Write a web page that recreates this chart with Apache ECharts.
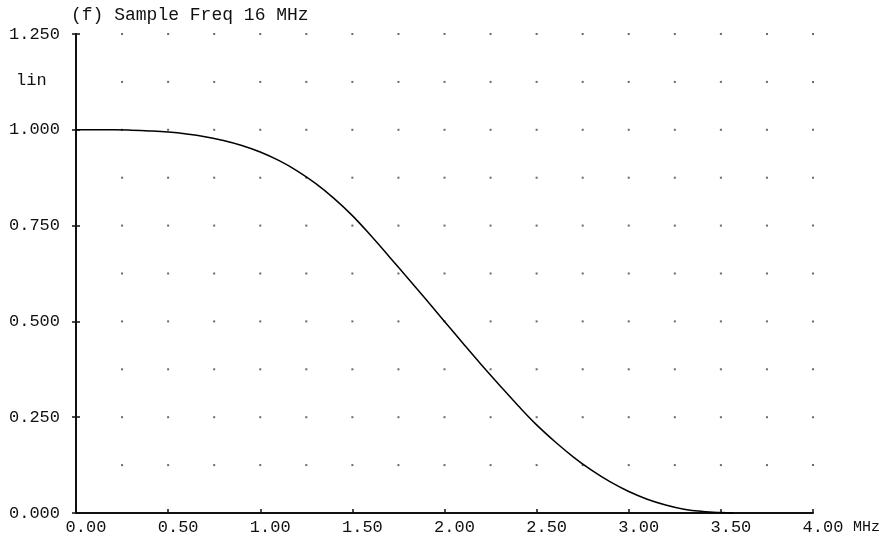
<!DOCTYPE html>
<html>
<head>
<meta charset="utf-8">
<script src="https://cdn.jsdelivr.net/npm/echarts@6/dist/echarts.min.js"></script>
<style>
  html, body { margin: 0; padding: 0; background: #fff; }
  #chart { width: 882px; height: 539px; }
</style>
</head>
<body>
<div id="chart"></div>
<script>
// Frequency response of the filter, linear gain vs. frequency (MHz)
const freqMHz = [0.0, 0.1, 0.2, 0.3, 0.4, 0.5, 0.6, 0.7, 0.8, 0.9,
                 1.0, 1.1, 1.2, 1.3, 1.4, 1.5, 1.6, 1.7, 1.8, 1.9,
                 2.0, 2.1, 2.2, 2.3, 2.4, 2.5, 2.6, 2.7, 2.8, 2.9,
                 3.0, 3.1, 3.2, 3.3, 3.4, 3.5, 3.57];
const gain = [1.000, 1.000, 1.000, 0.999, 0.997, 0.994, 0.989, 0.982, 0.972, 0.959,
              0.942, 0.920, 0.893, 0.860, 0.821, 0.776, 0.724, 0.669, 0.613, 0.557,
              0.500, 0.443, 0.387, 0.333, 0.280, 0.230, 0.186, 0.146, 0.111, 0.081,
              0.056, 0.036, 0.021, 0.010, 0.004, 0.001, 0.000];

// Axis ranges and dotted-grid positions
const xTicks = [0.00, 0.50, 1.00, 1.50, 2.00, 2.50, 3.00, 3.50, 4.00];
const yTicks = [0.000, 0.250, 0.500, 0.750, 1.000, 1.250];
const dotX = [0.25, 0.50, 0.75, 1.00, 1.25, 1.50, 1.75, 2.00, 2.25, 2.50, 2.75, 3.00, 3.25, 3.50, 3.75, 4.00];
const dotY = [0.125, 0.250, 0.375, 0.500, 0.625, 0.750, 0.875, 1.000, 1.125, 1.250];

const titleText = '(f) Sample Freq 16 MHz';
const scaleText = 'lin';
const unitText = 'MHz';

const FONT = 'Liberation Mono';
const INK = '#111';

const dots = [];
dotX.forEach(x => dotY.forEach(y => dots.push([x, y])));
const curve = freqMHz.map((f, i) => [f, gain[i]]);

const chart = echarts.init(document.getElementById('chart'), null, { renderer: 'canvas' });
chart.setOption({
  animation: false,
  backgroundColor: '#fff',
  grid: { left: 76, right: 69, top: 34, bottom: 26, containLabel: false, outerBoundsMode: 'none' },
  xAxis: {
    type: 'value',
    min: xTicks[0],
    max: xTicks[xTicks.length - 1],
    interval: 0.5,
    name: unitText,
    nameLocation: 'end',
    nameGap: 40,
    nameTextStyle: { fontFamily: FONT, fontSize: 15, color: INK, verticalAlign: 'top', padding: [7, 0, 0, 0] },
    axisLine: { lineStyle: { color: INK, width: 2 } },
    axisTick: { inside: true, length: 4, lineStyle: { color: INK, width: 1.5 } },
    splitLine: { show: false },
    axisLabel: {
      formatter: v => v.toFixed(2),
      fontFamily: FONT, fontSize: 17, color: INK,
      margin: 6, align: 'center', padding: [0, 0, 0, 20],
      showMinLabel: true, showMaxLabel: true
    }
  },
  yAxis: [{
    type: 'value',
    min: yTicks[0],
    max: yTicks[yTicks.length - 1],
    interval: 0.25,
    axisLine: { show: true, lineStyle: { color: INK, width: 2 } },
    axisTick: { show: true, inside: false, length: 4, lineStyle: { color: INK, width: 1.5 } },
    splitLine: { show: false },
    axisLabel: {
      formatter: v => v.toFixed(3),
      fontFamily: FONT, fontSize: 17, color: INK,
      margin: 16, verticalAlign: 'middle', padding: [0, 0, 9, 0],
      showMinLabel: true, showMaxLabel: true
    }
  }, {
    type: 'value',
    position: 'left',
    min: yTicks[0],
    max: yTicks[yTicks.length - 1],
    interval: 0.25,
    axisLine: { show: false },
    axisTick: { show: true, inside: true, length: 4, lineStyle: { color: INK, width: 1.5 } },
    splitLine: { show: false },
    axisLabel: { show: false }
  }],
  graphic: [
    { type: 'text', left: 71, top: 6, style: { text: titleText, font: '18px "Liberation Mono"', fill: INK } },
    { type: 'text', left: 16, top: 72, style: { text: scaleText, font: '17px "Liberation Mono"', fill: INK } }
  ],
  series: [{
    type: 'scatter',
    data: dots,
    symbol: 'rect',
    symbolSize: 2,
    itemStyle: { color: '#444' },
    silent: true,
    z: 1
  }, {
    type: 'line',
    data: curve,
    smooth: 0.4,
    showSymbol: false,
    symbol: 'none',
    lineStyle: { color: '#000', width: 1.5 },
    silent: true,
    z: 3
  }]
});
</script>
</body>
</html>
